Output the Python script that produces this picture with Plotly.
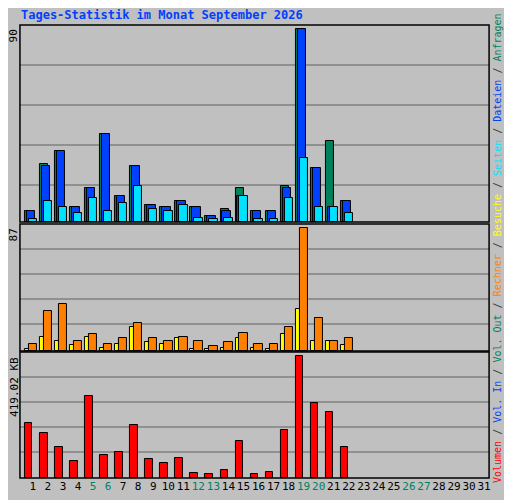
import plotly.graph_objects as go

days = list(range(1, 23))
all_days = list(range(1, 32))
weekend = [5, 6, 12, 13, 19, 20, 26, 27]

hits = [5, 27, 33, 7, 16, 41, 12, 26, 8, 7, 10, 7, 3, 6, 16, 5, 5, 17, 90, 25, 38, 10]
files = [5, 26, 33, 7, 16, 41, 12, 26, 8, 7, 10, 7, 3, 5, 12, 5, 5, 16, 90, 25, 7, 10]
pages = [1.5, 10, 7, 4, 11, 5, 9, 17, 6, 5, 8, 2, 1.5, 2, 12, 1.5, 1.5, 11, 30, 7, 7, 4]
visits = [1.5, 10, 7, 4, 10, 2, 5, 17, 6.5, 5, 9, 1.5, 1.5, 2, 9, 2, 1.5, 12, 30, 7, 7, 4]
sites = [5, 28, 33, 7, 12, 5, 9, 20, 9, 7, 10, 7, 3.5, 6.5, 13, 5, 5, 17, 87, 23, 7, 9]
volume_kb = [188, 154, 108, 59, 283, 80, 91, 182, 66, 52, 70, 17, 14, 28, 126, 14, 21,
             164, 419.02, 258, 227, 105]

GREEN = "#00805C"
BLUE = "#0040FF"
CYAN = "#00E0FF"
YELLOW = "#FFFF00"
ORANGE = "#FF8000"
RED = "#FF0000"
FONT = "DejaVu Sans Mono"

# the page puts the figure 8px in from the top-left corner
OFF = 8
W, H = 512 - OFF, 500 - OFF


def px(x):
    return (x - OFF) / W


def py(y):
    return 1 - (y - OFF) / H


fig = go.Figure()


def bar(y, color, offset, width, ax):
    fig.add_trace(go.Bar(
        x=days, y=y, offset=offset, width=width,
        marker=dict(color=color, line=dict(color="black", width=1)),
        xaxis="x" + ax, yaxis="y" + ax, showlegend=False,
    ))


bar(hits, GREEN, -0.53, 0.55, "")
bar(files, BLUE, -0.4, 0.55, "")
bar(pages, CYAN, -0.27, 0.55, "")
bar(visits, YELLOW, -0.53, 0.4, "2")
bar(sites, ORANGE, -0.27, 0.55, "2")
bar(volume_kb, RED, -0.53, 0.5, "3")

ticktext = [f'<span style="color:{GREEN}">{d}</span>' if d in weekend else str(d)
            for d in all_days]

xr = [0.14, 31.33]
xdom = [px(20), px(491)]
hidden = dict(showticklabels=False, showgrid=False, zeroline=False, ticks="")

fig.update_layout(
    width=W, height=H,
    margin=dict(l=0, r=0, t=0, b=0),
    paper_bgcolor="#C0C0C0", plot_bgcolor="#C0C0C0",
    barmode="overlay", bargap=0,
    font=dict(family=FONT, size=11, color="black"),
    xaxis=dict(domain=xdom, range=xr, anchor="y", **hidden),
    xaxis2=dict(domain=xdom, range=xr, anchor="y2", **hidden),
    xaxis3=dict(domain=xdom, range=xr, anchor="y3", tickvals=all_days,
                ticktext=ticktext, showgrid=False, zeroline=False, tickangle=0,
                ticks="", tickfont=dict(family=FONT, size=11)),
    yaxis=dict(domain=[py(222), py(25)], range=[0, 92], anchor="x", **hidden),
    yaxis2=dict(domain=[py(351), py(224)], range=[0, 89.8], anchor="x2", **hidden),
    yaxis3=dict(domain=[py(478), py(352)], range=[0, 433], anchor="x3", **hidden),
)

shapes = []
grids = {"": [0.188, 0.391, 0.594, 0.797],
         "2": [0.213, 0.409, 0.606, 0.803],
         "3": [0.206, 0.405, 0.603, 0.802]}
for ax, fr in grids.items():
    for f in fr:
        shapes.append(dict(type="line", xref="x" + ax + " domain", yref="y" + ax + " domain",
                           x0=0, x1=1, y0=f, y1=f, layer="below",
                           line=dict(color="#808080", width=1.5)))
    shapes.append(dict(type="rect", xref="x" + ax + " domain", yref="y" + ax + " domain",
                       x0=0, x1=1, y0=0, y1=1, line=dict(color="black", width=1.5)))
fig.update_layout(shapes=shapes)

fig.add_annotation(text="<b>Tages-Statistik im Monat September 2026</b>",
                   xref="paper", yref="paper", x=px(19), y=py(15),
                   xanchor="left", yanchor="middle", showarrow=False,
                   font=dict(family=FONT, size=12, color=BLUE))

for label, ytop in [("90", 27), ("87", 226), ("419.02 KB", 355)]:
    fig.add_annotation(text=label, xref="paper", yref="paper", x=px(14),
                       y=py(ytop), xanchor="center", yanchor="top",
                       textangle=-90, showarrow=False,
                       font=dict(family=FONT, size=11, color="black"))

sep = '<span style="color:#404040"> / </span>'
legend = sep.join(f'<span style="color:{c}">{t}</span>' for t, c in [
    ("Volumen", RED), ("Vol. In", BLUE), ("Vol. Out", GREEN), ("Rechner", ORANGE),
    ("Besuche", YELLOW), ("Seiten", CYAN), ("Dateien", BLUE), ("Anfragen", GREEN)])
fig.add_annotation(text=legend, xref="paper", yref="paper", x=px(499),
                   y=py(248), xanchor="center", yanchor="middle",
                   textangle=-90, showarrow=False,
                   font=dict(family=FONT, size=10))

fig.write_html("out.html")
